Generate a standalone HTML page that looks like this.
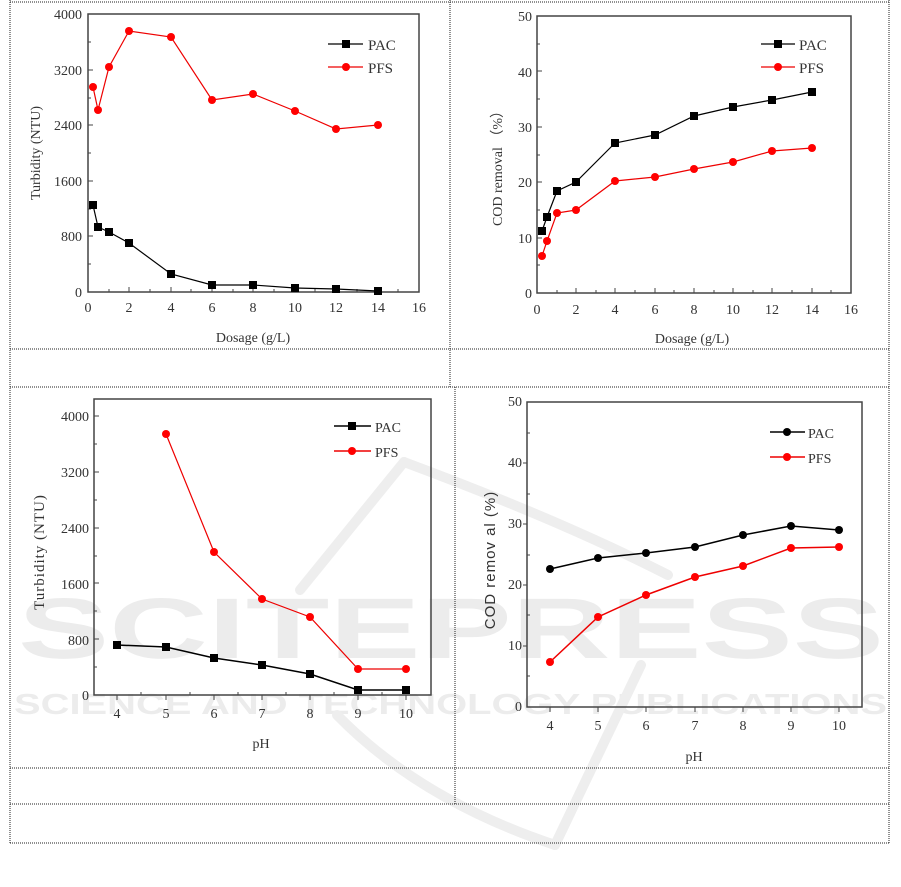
<!DOCTYPE html>
<html><head><meta charset="utf-8"><style>html,body{margin:0;padding:0;background:#fff}svg{display:block}</style></head><body>
<svg width="901" height="887" viewBox="0 0 901 887" xmlns="http://www.w3.org/2000/svg" font-family="Liberation Serif, serif" fill="#333">
<!-- watermark -->
<g fill="#ececec" font-family="Liberation Sans, sans-serif" font-weight="bold">
<text x="18" y="658" font-size="86" textLength="866" lengthAdjust="spacingAndGlyphs">SCITEPRESS</text>
<text x="14" y="714" font-size="29" textLength="873" lengthAdjust="spacingAndGlyphs">SCIENCE AND TECHNOLOGY PUBLICATIONS</text>
</g>
<g fill="none" stroke="#eeeeee" stroke-width="10" stroke-linecap="round">
<path d="M404 462 L300 590"/>
<path d="M404 462 Q560 520 668 575"/>
<path d="M641 665 L555 845"/>
<path d="M337 715 Q420 800 555 845"/>
</g>
<!-- table borders -->
<g stroke="#222" stroke-width="1" stroke-dasharray="1,1" fill="none">
<line x1="10" y1="2" x2="889" y2="2"/>
<line x1="10" y1="0" x2="10" y2="843"/>
<line x1="889" y1="0" x2="889" y2="843"/>
<line x1="450" y1="0" x2="450" y2="387"/>
<line x1="10" y1="349" x2="889" y2="349"/>
<line x1="10" y1="387" x2="889" y2="387"/>
<line x1="455" y1="387" x2="455" y2="804"/>
<line x1="10" y1="768" x2="889" y2="768"/>
<line x1="10" y1="804" x2="889" y2="804"/>
<line x1="10" y1="843" x2="889" y2="843"/>
</g>
<!-- Chart 1 -->
<rect x="88" y="14" width="331" height="278" fill="none" stroke="#444" stroke-width="1.5"/>
<g stroke="#444" stroke-width="1">
<path d="M129 292v-5M171 292v-5M212 292v-5M253 292v-5M295 292v-5M336 292v-5M378 292v-5M109 292v-3M150 292v-3M191 292v-3M233 292v-3M274 292v-3M315 292v-3M357 292v-3M398 292v-3"/>
<path d="M88 236h5M88 181h5M88 125h5M88 70h5M88 264h3M88 209h3M88 153h3M88 98h3M88 42h3"/>
</g>
<g font-size="14" text-anchor="end">
<text x="82" y="19">4000</text><text x="82" y="75">3200</text><text x="82" y="130">2400</text><text x="82" y="186">1600</text><text x="82" y="241">800</text><text x="82" y="297">0</text></g>
<g font-size="14" text-anchor="middle">
<text x="88" y="312">0</text><text x="129" y="312">2</text><text x="171" y="312">4</text><text x="212" y="312">6</text><text x="253" y="312">8</text><text x="295" y="312">10</text><text x="336" y="312">12</text><text x="378" y="312">14</text><text x="419" y="312">16</text></g>
<text x="253" y="342" font-size="14" text-anchor="middle">Dosage (g/L)</text>
<text transform="translate(40 153) rotate(-90)" font-size="14" text-anchor="middle">Turbidity (NTU)</text>
<polyline fill="none" stroke="#000" stroke-width="1.2" points="93,205 98,227 109,232 129,243 171,274 212,285 253,285 295,288 336,289 378,291"/>
<g fill="#000"><rect x="89" y="201" width="8" height="8"/><rect x="94" y="223" width="8" height="8"/><rect x="105" y="228" width="8" height="8"/><rect x="125" y="239" width="8" height="8"/><rect x="167" y="270" width="8" height="8"/><rect x="208" y="281" width="8" height="8"/><rect x="249" y="281" width="8" height="8"/><rect x="291" y="284" width="8" height="8"/><rect x="332" y="285" width="8" height="8"/><rect x="374" y="287" width="8" height="8"/></g>
<polyline fill="none" stroke="#e00" stroke-width="1.2" points="93,87 98,110 109,67 129,31 171,37 212,100 253,94 295,111 336,129 378,125"/>
<g fill="#f00"><circle cx="93" cy="87" r="4"/><circle cx="98" cy="110" r="4"/><circle cx="109" cy="67" r="4"/><circle cx="129" cy="31" r="4"/><circle cx="171" cy="37" r="4"/><circle cx="212" cy="100" r="4"/><circle cx="253" cy="94" r="4"/><circle cx="295" cy="111" r="4"/><circle cx="336" cy="129" r="4"/><circle cx="378" cy="125" r="4"/></g>
<line x1="328" y1="44" x2="363" y2="44" stroke="#000" stroke-width="1.2"/><rect x="342" y="40" width="8" height="8" fill="#000"/>
<line x1="328" y1="67" x2="363" y2="67" stroke="#e00" stroke-width="1.2"/><circle cx="346" cy="67" r="4" fill="#f00"/>
<text x="368" y="50" font-size="15">PAC</text><text x="368" y="73" font-size="15">PFS</text>
<!-- Chart 2 -->
<rect x="537" y="16" width="314" height="277" fill="none" stroke="#444" stroke-width="1.5"/>
<g stroke="#444" stroke-width="1">
<path d="M576 293v-5M615 293v-5M655 293v-5M694 293v-5M733 293v-5M772 293v-5M812 293v-5M557 293v-3M596 293v-3M635 293v-3M674 293v-3M714 293v-3M753 293v-3M792 293v-3M831 293v-3"/>
<path d="M537 238h5M537 182h5M537 127h5M537 71h5M537 265h3M537 210h3M537 155h3M537 99h3M537 44h3"/>
</g>
<g font-size="14" text-anchor="end">
<text x="532" y="21">50</text><text x="532" y="77">40</text><text x="532" y="132">30</text><text x="532" y="187">20</text><text x="532" y="243">10</text><text x="532" y="298">0</text></g>
<g font-size="14" text-anchor="middle">
<text x="537" y="314">0</text><text x="576" y="314">2</text><text x="615" y="314">4</text><text x="655" y="314">6</text><text x="694" y="314">8</text><text x="733" y="314">10</text><text x="772" y="314">12</text><text x="812" y="314">14</text><text x="851" y="314">16</text></g>
<text x="692" y="343" font-size="14" text-anchor="middle">Dosage (g/L)</text>
<text transform="translate(502 165) rotate(-90)" font-size="14" text-anchor="middle">COD removal （%）</text>
<polyline fill="none" stroke="#000" stroke-width="1.2" points="542,231 547,217 557,191 576,182 615,143 655,135 694,116 733,107 772,100 812,92"/>
<g fill="#000"><rect x="538" y="227" width="8" height="8"/><rect x="543" y="213" width="8" height="8"/><rect x="553" y="187" width="8" height="8"/><rect x="572" y="178" width="8" height="8"/><rect x="611" y="139" width="8" height="8"/><rect x="651" y="131" width="8" height="8"/><rect x="690" y="112" width="8" height="8"/><rect x="729" y="103" width="8" height="8"/><rect x="768" y="96" width="8" height="8"/><rect x="808" y="88" width="8" height="8"/></g>
<polyline fill="none" stroke="#e00" stroke-width="1.2" points="542,256 547,241 557,213 576,210 615,181 655,177 694,169 733,162 772,151 812,148"/>
<g fill="#f00"><circle cx="542" cy="256" r="4"/><circle cx="547" cy="241" r="4"/><circle cx="557" cy="213" r="4"/><circle cx="576" cy="210" r="4"/><circle cx="615" cy="181" r="4"/><circle cx="655" cy="177" r="4"/><circle cx="694" cy="169" r="4"/><circle cx="733" cy="162" r="4"/><circle cx="772" cy="151" r="4"/><circle cx="812" cy="148" r="4"/></g>
<line x1="761" y1="44" x2="795" y2="44" stroke="#000" stroke-width="1.2"/><rect x="774" y="40" width="8" height="8" fill="#000"/>
<line x1="761" y1="67" x2="795" y2="67" stroke="#e00" stroke-width="1.2"/><circle cx="778" cy="67" r="4" fill="#f00"/>
<text x="799" y="50" font-size="15">PAC</text><text x="799" y="73" font-size="15">PFS</text>
<!-- Chart 3 -->
<rect x="94" y="399" width="337" height="296" fill="none" stroke="#444" stroke-width="1.5"/>
<g stroke="#444" stroke-width="1">
<path d="M117 695v5M166 695v5M214 695v5M262 695v5M310 695v5M358 695v5M406 695v5M141 695v-3M190 695v-3M238 695v-3M286 695v-3M334 695v-3M382 695v-3"/>
<path d="M94 416h5M94 472h5M94 528h5M94 583h5M94 639h5M94 444h3M94 500h3M94 556h3M94 611h3M94 667h3"/>
</g>
<g font-size="14" text-anchor="end">
<text x="89" y="421">4000</text><text x="89" y="477">3200</text><text x="89" y="533">2400</text><text x="89" y="589">1600</text><text x="89" y="645">800</text><text x="89" y="700">0</text></g>
<g font-size="14" text-anchor="middle">
<text x="117" y="718">4</text><text x="166" y="718">5</text><text x="214" y="718">6</text><text x="262" y="718">7</text><text x="310" y="718">8</text><text x="358" y="718">9</text><text x="406" y="718">10</text></g>
<text x="261" y="748" font-size="14" text-anchor="middle">pH</text>
<text transform="translate(44 552) rotate(-90)" font-size="15" text-anchor="middle" letter-spacing="1">Turbidity (NTU)</text>
<polyline fill="none" stroke="#000" stroke-width="1.5" points="117,645 166,647 214,658 262,665 310,674 358,690 406,690"/>
<g fill="#000"><rect x="113" y="641" width="8" height="8"/><rect x="162" y="643" width="8" height="8"/><rect x="210" y="654" width="8" height="8"/><rect x="258" y="661" width="8" height="8"/><rect x="306" y="670" width="8" height="8"/><rect x="354" y="686" width="8" height="8"/><rect x="402" y="686" width="8" height="8"/></g>
<polyline fill="none" stroke="#e00" stroke-width="1.2" points="166,434 214,552 262,599 310,617 358,669 406,669"/>
<g fill="#f00"><circle cx="166" cy="434" r="4"/><circle cx="214" cy="552" r="4"/><circle cx="262" cy="599" r="4"/><circle cx="310" cy="617" r="4"/><circle cx="358" cy="669" r="4"/><circle cx="406" cy="669" r="4"/></g>
<line x1="334" y1="426" x2="371" y2="426" stroke="#000" stroke-width="1.5"/><rect x="348" y="422" width="8" height="8" fill="#000"/>
<line x1="334" y1="451" x2="371" y2="451" stroke="#e00" stroke-width="1.5"/><circle cx="352" cy="451" r="4" fill="#f00"/>
<text x="375" y="432" font-size="14">PAC</text><text x="375" y="457" font-size="14">PFS</text>
<!-- Chart 4 -->
<rect x="527" y="402" width="335" height="305" fill="none" stroke="#444" stroke-width="1.5"/>
<g stroke="#444" stroke-width="1">
<path d="M550 707v5M598 707v5M646 707v5M695 707v5M743 707v5M791 707v5M839 707v5"/>
<path d="M527 646h-4M527 585h-4M527 524h-4M527 463h-4M527 676h3M527 615h3M527 555h3M527 494h3M527 433h3"/>
</g>
<g font-size="14" text-anchor="end">
<text x="522" y="406">50</text><text x="522" y="467">40</text><text x="522" y="528">30</text><text x="522" y="589">20</text><text x="522" y="650">10</text><text x="522" y="711">0</text></g>
<g font-size="14" text-anchor="middle">
<text x="550" y="730">4</text><text x="598" y="730">5</text><text x="646" y="730">6</text><text x="695" y="730">7</text><text x="743" y="730">8</text><text x="791" y="730">9</text><text x="839" y="730">10</text></g>
<text x="694" y="761" font-size="14" text-anchor="middle">pH</text>
<text transform="translate(495 560) rotate(-90)" font-size="15" font-family="Liberation Sans, sans-serif" text-anchor="middle" letter-spacing="1">COD remov al (%)</text>
<polyline fill="none" stroke="#000" stroke-width="1.5" points="550,569 598,558 646,553 695,547 743,535 791,526 839,530"/>
<g fill="#000"><circle cx="550" cy="569" r="4"/><circle cx="598" cy="558" r="4"/><circle cx="646" cy="553" r="4"/><circle cx="695" cy="547" r="4"/><circle cx="743" cy="535" r="4"/><circle cx="791" cy="526" r="4"/><circle cx="839" cy="530" r="4"/></g>
<polyline fill="none" stroke="#e00" stroke-width="1.5" points="550,662 598,617 646,595 695,577 743,566 791,548 839,547"/>
<g fill="#f00"><circle cx="550" cy="662" r="4"/><circle cx="598" cy="617" r="4"/><circle cx="646" cy="595" r="4"/><circle cx="695" cy="577" r="4"/><circle cx="743" cy="566" r="4"/><circle cx="791" cy="548" r="4"/><circle cx="839" cy="547" r="4"/></g>
<line x1="770" y1="432" x2="805" y2="432" stroke="#000" stroke-width="1.5"/><circle cx="787" cy="432" r="4" fill="#000"/>
<line x1="770" y1="457" x2="805" y2="457" stroke="#e00" stroke-width="1.5"/><circle cx="787" cy="457" r="4" fill="#f00"/>
<text x="808" y="438" font-size="14">PAC</text><text x="808" y="463" font-size="14">PFS</text>
</svg>
</body></html>
